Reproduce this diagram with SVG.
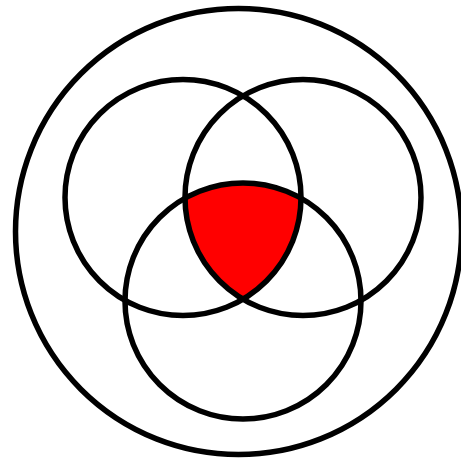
<svg xmlns="http://www.w3.org/2000/svg" width="461" height="464" viewBox="0 0 461 464">
<style>
.c{fill:none;stroke:#000;stroke-width:5.5}
</style>
<rect width="461" height="464" fill="#fff"/>
<g id="intersection">
<path d="M185,198.2 A118,118 0 0 1 301,198.2 A118,118 0 0 1 243,299.1 A118,118 0 0 1 185,198.2 Z" fill="#ff0000"/>
</g>
<g id="universe"><circle class="c" cx="238.5" cy="231.5" r="223"/></g>
<g id="setA"><circle class="c" cx="183" cy="197.5" r="118"/></g>
<g id="setB"><circle class="c" cx="303" cy="197.5" r="118"/></g>
<g id="setC"><circle class="c" cx="243" cy="301" r="118"/></g>
</svg>
